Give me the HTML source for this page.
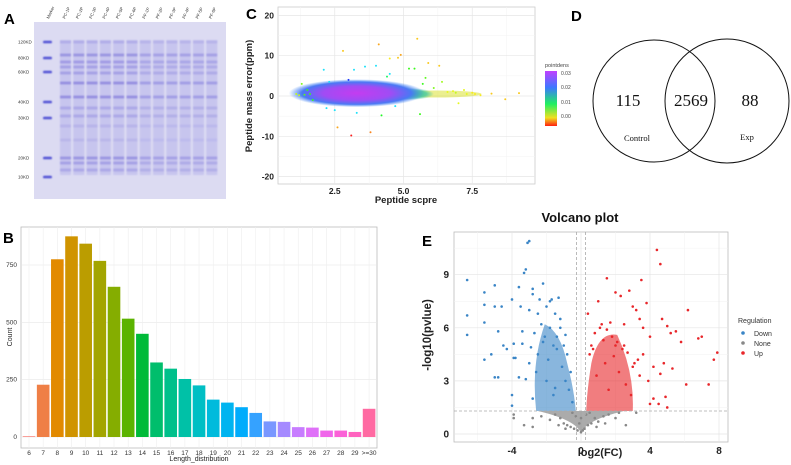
<!DOCTYPE html>
<html><head><meta charset="utf-8">
<style>
html,body{margin:0;padding:0;background:#fff;}
svg{display:block;font-family:"Liberation Sans",Arial,sans-serif;}
</style></head>
<body>
<svg id="fig" width="791" height="465" viewBox="0 0 791 465" xmlns="http://www.w3.org/2000/svg">
<defs>
<radialGradient id="cloudG" cx="50%" cy="50%" r="50%">
<stop offset="0" stop-color="#c43cf0"/><stop offset="0.5" stop-color="#a04cf4"/><stop offset="0.8" stop-color="#4a78f4"/><stop offset="1" stop-color="#3a84f2" stop-opacity="0"/>
</radialGradient>
<radialGradient id="tailG" cx="50%" cy="50%" r="50%">
<stop offset="0" stop-color="#30d080"/><stop offset="0.7" stop-color="#40c8a0" stop-opacity="0.8"/><stop offset="1" stop-color="#40c8a0" stop-opacity="0"/>
</radialGradient>
<linearGradient id="cbar" x1="0" y1="0" x2="0" y2="1">
<stop offset="0" stop-color="#c040ff"/><stop offset="0.3" stop-color="#3c78ff"/><stop offset="0.6" stop-color="#20f060"/><stop offset="0.85" stop-color="#f0e020"/><stop offset="1" stop-color="#ff2010"/>
</linearGradient>
<filter id="blur1"><feGaussianBlur stdDeviation="0.7"/></filter>
</defs>

<g id="panelA">
<text x="4" y="24" font-size="15" font-weight="bold">A</text>
<rect x="34" y="22" width="192" height="177" fill="#dcdbf2"/>
<g id="gelLanes" filter="url(#blur1)"></g>
<g id="gelLabels" font-size="4.5" fill="#333"></g>
</g>

<g id="panelB">
<text x="3" y="243" font-size="15" font-weight="bold">B</text>
<rect x="21" y="227" width="356" height="221" fill="#fff" stroke="#bbb" stroke-width="0.8"/>
<g id="bGrid"></g><g id="bBars"></g><g id="bAxes" font-size="6.5" fill="#333"></g>
<text x="199" y="461" font-size="7" text-anchor="middle" fill="#222">Length_distribution</text>
<text transform="translate(12,337) rotate(-90)" font-size="7" text-anchor="middle" fill="#222">Count</text>
</g>

<g id="panelC">
<text x="246" y="19" font-size="15" font-weight="bold">C</text>
<rect x="278" y="7" width="257" height="177" fill="#fff" stroke="#ccc" stroke-width="0.8"/>
<g id="cGrid"></g>
<g id="cCloud"></g>
<g id="cPts"></g>
<g id="cAxes" font-size="8.5" font-weight="bold" fill="#222"></g>
<text x="406" y="203" font-size="9.5" font-weight="bold" text-anchor="middle" fill="#222">Peptide scpre</text>
<text transform="translate(252,96) rotate(-90)" font-size="9.5" font-weight="bold" text-anchor="middle" fill="#222">Peptide mass error(ppm)</text>
<text x="545" y="67" font-size="5.5" fill="#444">pointdens</text>
<rect x="545" y="71" width="12" height="55" fill="url(#cbar)"/>
<g font-size="5" fill="#444">
<text x="561" y="75">0.03</text><text x="561" y="89">0.02</text><text x="561" y="104">0.01</text><text x="561" y="118">0.00</text>
</g>
</g>

<g id="panelD">
<text x="571" y="21" font-size="15" font-weight="bold">D</text>
<circle cx="654" cy="101" r="61" fill="none" stroke="#111" stroke-width="1"/>
<circle cx="727" cy="101" r="62" fill="none" stroke="#111" stroke-width="1"/>
<g font-family="Liberation Serif,serif" text-anchor="middle" fill="#111">
<text x="628" y="106" font-size="17">115</text>
<text x="691" y="106" font-size="17">2569</text>
<text x="750" y="106" font-size="17">88</text>
<text x="637" y="141" font-size="8.5">Control</text>
<text x="747" y="140" font-size="8.5">Exp</text>
</g>
</g>

<g id="panelE">
<text x="580" y="222" font-size="13" font-weight="bold" text-anchor="middle" fill="#111">Volcano plot</text>
<text x="422" y="246" font-size="15" font-weight="bold">E</text>
<rect x="454" y="232" width="274" height="210" fill="#fff" stroke="#bbb" stroke-width="0.8"/>
<g id="eGrid"></g>
<g id="eDense"></g>
<g id="ePts"></g>
<g id="eLines"></g>
<g id="eAxes" font-size="10" font-weight="bold" fill="#222"></g>
<text x="600" y="456" font-size="11" font-weight="bold" text-anchor="middle" fill="#222">log2(FC)</text>
<text transform="translate(431,335) rotate(-90)" font-size="11.5" font-weight="bold" text-anchor="middle" fill="#222">-log10(pvlue)</text>
<g font-size="7" fill="#333">
<text x="738" y="323">Regulation</text>
<circle cx="743" cy="333" r="1.8" fill="#3a85c6"/><text x="754" y="336">Down</text>
<circle cx="743" cy="343" r="1.8" fill="#888"/><text x="754" y="346">None</text>
<circle cx="743" cy="353" r="1.8" fill="#e8262a"/><text x="754" y="356">Up</text>
</g>
</g>

<script>
var lenCategories = ["6","7","8","9","10","11","12","13","14","15","16","17","18","19","20","21","22","23","24","25","26","27","28","29",">=30"];
var lenCounts = [3,228,775,875,843,768,655,516,450,325,298,253,225,163,150,130,105,68,66,43,41,28,28,22,123];
var lenTicks = [0,250,500,750];
var lenColors = ["#f8766d","#ef7f46","#e28a00","#d09400","#bb9d00","#a3a500","#85ad00","#5bb300","#00ba38","#00be6c","#00c08b","#00c1a7","#00bfc4","#00bbdc","#00b4f0","#00acfc","#35a2ff","#7997ff","#a58aff","#c77cff","#df70f8","#f066ea","#fb61d7","#ff63bf","#ff6aa2"];

var cTicksX = [2.5,5.0,7.5];
var cTicksY = [-20,-10,0,10,20];
var cScore = [1.3,1.5,1.6,1.2,1.1,1.7,2.1,2.8,3.1,3.8,4.1,4.2,4.5,4.8,4.9,5.5,5.6,5.9,6.3,6.4,5.7,4.5,3.6,3.2,2.6,2.3,2.5,3.0,4.0,4.4,5.2,6.6,6.8,7.0,7.2,7.3,7.5,7.6,7.8,8.2,8.7,9.2,6.1,5.8,5.4,6.9,3.3,2.2,4.7,1.4];
var cError = [3.0,1.5,0.5,0.2,0.5,-1.0,6.5,11.2,-9.8,-9.0,12.8,-4.8,9.3,9.5,10.2,14.2,-4.5,8.2,7.5,3.5,3.0,5.5,7.3,6.5,-7.8,3.5,-3.5,4.0,7.5,4.8,6.8,1.0,1.2,-1.8,1.5,0.5,0.8,0.5,0.2,0.6,-0.8,0.7,2.0,4.5,6.8,0.8,-4.2,-3.0,-2.5,0.3];
var cDens = [0.01,0.012,0.012,0.008,0.008,0.012,0.02,0.005,0.0,0.003,0.004,0.013,0.006,0.005,0.004,0.005,0.012,0.005,0.005,0.009,0.012,0.02,0.02,0.02,0.004,0.02,0.02,0.025,0.02,0.015,0.012,0.007,0.007,0.007,0.007,0.007,0.006,0.006,0.006,0.005,0.005,0.005,0.01,0.011,0.012,0.008,0.02,0.02,0.02,0.011];

var eTicksX = [-4,0,4,8];
var eTicksY = [0,3,6,9];
var downX = [-6.6,-6.6,-6.6,-5.6,-5.6,-5.6,-5.6,-5.0,-5.0,-4.6,-4.5,-4.0,-4.0,-4.0,-3.9,-3.9,-3.6,-3.5,-3.3,-3.2,-3.1,-3.0,-3.0,-2.8,-2.8,-2.7,-2.5,-2.4,-2.2,-2.0,-1.8,-1.7,-1.5,-1.4,-1.3,-1.2,-1.0,-0.8,-0.6,-3.0,-2.6,-2.0,-1.6,-4.8,-5.2,-3.8,-3.4,-2.2,-1.9,-1.1,-0.9,-0.7,-0.5,-1.5,-2.8,-3.6,-4.3,-4.8,-5.0,-3.2,-2.3,-2.1,-1.8,-1.6,-1.4,-2.5,-2.9,-3.4,-1.2,-0.9];
var downY = [8.7,6.7,5.6,8.0,7.3,6.3,4.2,8.4,7.2,7.2,5.0,7.6,2.2,1.6,5.1,4.3,8.3,7.2,9.1,9.3,10.8,10.9,7.0,8.2,7.9,5.7,6.8,7.6,8.5,7.2,7.5,7.6,6.8,5.5,7.7,6.5,5.0,4.5,3.5,4.0,3.5,3.0,2.2,3.2,4.5,4.3,5.8,5.2,4.2,3.8,3.0,2.5,1.8,2.6,2.0,3.2,4.8,5.8,3.2,3.1,6.2,5.5,6.0,5.0,4.8,4.5,4.9,5.1,6.0,5.6];
var upX = [0.4,0.6,1.0,1.5,1.7,2.0,2.3,2.5,2.8,3.0,3.2,3.4,3.5,3.6,3.8,4.0,4.2,4.4,4.6,4.7,4.8,5.0,5.2,5.5,5.8,6.1,6.2,6.8,7.0,7.4,7.7,7.9,4.6,4.0,3.0,2.4,1.8,1.2,1.4,2.2,2.6,3.3,3.9,4.5,5.0,5.3,0.9,0.5,2.0,3.6,4.2,4.9,1.6,2.9,3.4,1.1,1.3,0.8,2.1,2.7,1.9,1.5,0.7,2.5,3.1];
var upY = [6.8,5.0,7.5,8.8,6.3,8.0,7.8,6.2,8.1,7.2,7.0,6.5,8.7,6.0,7.4,5.5,3.8,10.4,9.6,6.5,4.0,6.1,5.7,5.8,5.2,2.8,7.0,5.4,5.5,2.8,4.2,4.6,3.4,1.7,3.8,4.8,5.5,6.2,4.0,3.5,2.8,4.2,3.0,1.7,1.5,3.7,3.3,4.5,5.0,4.5,2.0,2.1,2.5,2.2,3.3,6.0,5.3,5.7,5.2,4.6,4.4,5.9,4.8,5.0,4.0];
var noneX = [-3.9,-3.9,-3.3,-2.8,-2.8,-2.3,-1.8,-1.5,-1.2,-1.0,-0.8,-0.6,-0.4,-0.2,0.0,0.1,0.2,0.4,0.6,0.8,1.0,1.3,1.6,2.0,2.2,2.6,3.2,-0.3,0.3,-0.1,0.0,-0.5,0.5,0.9,-0.9,1.4,-1.3];
var noneY = [1.1,0.9,0.5,0.4,0.9,1.0,0.8,1.1,0.9,0.6,0.5,0.4,0.3,0.2,0.1,0.2,0.3,0.5,0.6,0.9,0.7,1.0,1.1,0.9,1.2,0.5,1.2,1.0,1.1,0.6,0.9,1.2,1.2,0.4,0.3,0.6,0.5];

var NS = "http://www.w3.org/2000/svg";
function mk(tag, attrs, parent){var e=document.createElementNS(NS,tag);for(var k in attrs)e.setAttribute(k,attrs[k]);parent.appendChild(e);return e;}

(function(){
  var lanes=document.getElementById('gelLanes');
  var mk_kd=[["120KD",42],["80KD",58],["60KD",72],["40KD",102],["30KD",118],["20KD",158],["10KD",177]];
  mk_kd.forEach(function(m){
    var b=mk('rect',{x:43,y:m[1]-1.3,width:9,height:2.6,rx:1.3,fill:'#3a3ad0',opacity:0.85},lanes);
    
    
    var t=mk('text',{x:18,y:m[1]+1.5,'font-size':4.5,fill:'#333'},document.getElementById('gelLabels'));
    t.textContent=m[0];
    
    
  });
  var bandY=[[42,0.2],[55,0.4],[62,0.35],[67,0.3],[73,0.3],[83,0.45],[97,0.45],[108,0.25],[116,0.25],[126,0.15],[140,0.12],[158,0.4],[163,0.3],[170,0.25]];
  var names=["PC-1P","PC-2P","PC-3P","PC-4P","PC-5P","PC-6P","PF-1P","PF-2P","PF-3P","PF-4P","PF-5P","PF-6P"];
  for(var i=0;i<12;i++){
    var x=60+i*13.3;
    var l=mk('rect',{x:x,y:40,width:11,height:135,fill:'#bfbcec',opacity:0.7},lanes);
    
    
    bandY.forEach(function(b){mk('rect',{x:x,y:b[0]-1.5,width:11,height:3,fill:'#5a50d0',opacity:b[1]*(i<6?1:0.75)},lanes);});
    var t=mk('text',{transform:'translate('+(x+5)+',19) rotate(-65)','font-size':4.2,fill:'#333'},document.getElementById('gelLabels'));
    t.textContent=names[i];
    
    
  }
  var t=mk('text',{transform:'translate(49,19) rotate(-65)','font-size':4.2,fill:'#333'},document.getElementById('gelLabels'));
  t.textContent='Marker';
  
  
})();

(function(){
  var x0=29,step=14.17,y0=437,ky=172/750;
  function bx(i){return x0+i*step;}
  function by(v){return y0-v*ky;}
  var g=document.getElementById('bGrid'),bb=document.getElementById('bBars'),ax=document.getElementById('bAxes');
  lenTicks.forEach(function(t){
    mk('line',{x1:21,x2:377,y1:by(t),y2:by(t),stroke:'#e6e6e6','stroke-width':0.6},g);
    var tx=mk('text',{x:17,y:by(t)+2,'text-anchor':'end'},ax);tx.textContent=t;
    
    
  });
  lenCategories.forEach(function(c,i){
    mk('line',{x1:bx(i),x2:bx(i),y1:227,y2:448,stroke:'#eeeeee','stroke-width':0.6},g);
    var r=mk('rect',{x:bx(i)-6.3,y:by(lenCounts[i]),width:12.6,height:lenCounts[i]*ky,fill:lenColors[i]},bb);
    
    
    var tx=mk('text',{x:bx(i),y:455,'text-anchor':'middle'},ax);tx.textContent=c;
    
    
  });
})();

(function(){
  function cx(v){return 266+v*27.5;}
  function cy(v){return 96-v*4.03;}
  var g=document.getElementById('cGrid'),ax=document.getElementById('cAxes'),cl=document.getElementById('cCloud'),p=document.getElementById('cPts');
  [1.25,3.75,6.25,8.75].forEach(function(v){mk('line',{x1:cx(v),x2:cx(v),y1:7,y2:184,stroke:'#f3f3f3','stroke-width':0.5},g);});
  [-15,-5,5,15].forEach(function(v){mk('line',{x1:278,x2:535,y1:cy(v),y2:cy(v),stroke:'#f3f3f3','stroke-width':0.5},g);});
  cTicksX.forEach(function(t){
    mk('line',{x1:cx(t),x2:cx(t),y1:7,y2:184,stroke:'#e6e6e6','stroke-width':0.7},g);
    var tx=mk('text',{x:cx(t),y:194,'text-anchor':'middle'},ax);tx.textContent=t.toFixed(1);
    
    
  });
  cTicksY.forEach(function(t){
    mk('line',{x1:278,x2:535,y1:cy(t),y2:cy(t),stroke:'#e6e6e6','stroke-width':0.7},g);
    var tx=mk('text',{x:274,y:cy(t)+3,'text-anchor':'end'},ax);tx.textContent=t;
    
    
  });
  mk('ellipse',{cx:cx(6.2),cy:cy(0.5),rx:45,ry:3.5,fill:'#d8e020',opacity:0.5},cl);
  mk('ellipse',{cx:cx(5.2),cy:cy(0.5),rx:25,ry:6,fill:'url(#tailG)'},cl);
  mk('ellipse',{cx:cx(1.6),cy:cy(0.5),rx:12,ry:5,fill:'url(#tailG)'},cl);
  var d=mk('ellipse',{cx:cx(3.3),cy:cy(0.7),rx:68,ry:14,fill:'url(#cloudG)'},cl);
  
  
  function dcol(v){var h=Math.max(0,Math.min(1,v/0.03));return 'hsl('+(h*280)+',95%,55%)';}
  cScore.forEach(function(s,i){
    var c=mk('circle',{cx:cx(s),cy:cy(cError[i]),r:1,fill:dcol(cDens[i])},p);
    
    
  });
})();

(function(){
  function ex(v){return 581+v*17.25;}
  function ey(v){return 434-v*17.7;}
  var g=document.getElementById('eGrid'),ax=document.getElementById('eAxes'),p=document.getElementById('ePts'),dn=document.getElementById('eDense'),ln=document.getElementById('eLines');
  [-6,-2,2,6].forEach(function(v){mk('line',{x1:ex(v),x2:ex(v),y1:232,y2:442,stroke:'#f2f2f2','stroke-width':0.5},g);});
  [1.5,4.5,7.5,10.5].forEach(function(v){mk('line',{x1:454,x2:728,y1:ey(v),y2:ey(v),stroke:'#f2f2f2','stroke-width':0.5},g);});
  eTicksX.forEach(function(t){
    mk('line',{x1:ex(t),x2:ex(t),y1:232,y2:442,stroke:'#e4e4e4','stroke-width':0.7},g);
    var tx=mk('text',{x:ex(t),y:454,'text-anchor':'middle'},ax);tx.textContent=t;
    
    
  });
  eTicksY.forEach(function(t){
    mk('line',{x1:454,x2:728,y1:ey(t),y2:ey(t),stroke:'#e4e4e4','stroke-width':0.7},g);
    var tx=mk('text',{x:449,y:ey(t)+3.5,'text-anchor':'end'},ax);tx.textContent=t;
    
    
  });
  var dd=mk('path',{d:'M'+ex(-0.3)+','+ey(1.3)+' L'+ex(-2.6)+','+ey(1.3)+' Q'+ex(-2.9)+','+ey(4)+' '+ex(-2.1)+','+ey(6.2)+' Q'+ex(-1.2)+','+ey(5.8)+' '+ex(-0.8)+','+ey(4)+' Q'+ex(-0.4)+','+ey(2.5)+' '+ex(-0.3)+','+ey(1.3)+'Z',fill:'#3a85c6',opacity:0.6},dn);
  
  
  var du=mk('path',{d:'M'+ex(0.3)+','+ey(1.3)+' L'+ex(3.0)+','+ey(1.3)+' Q'+ex(3.1)+','+ey(3.5)+' '+ex(2.1)+','+ey(5.6)+' Q'+ex(1.0)+','+ey(5.8)+' '+ex(0.6)+','+ey(4)+' Q'+ex(0.35)+','+ey(2.5)+' '+ex(0.3)+','+ey(1.3)+'Z',fill:'#e8262a',opacity:0.6},dn);
  
  
  var dnn=mk('path',{d:'M'+ex(-2.5)+','+ey(1.3)+' Q'+ex(-0.3)+','+ey(0.8)+' '+ex(0)+','+ey(0.05)+' Q'+ex(0.3)+','+ey(0.8)+' '+ex(2.5)+','+ey(1.3)+'Z',fill:'#888',opacity:0.7},dn);
  
  
  function pts(xs,ys,col,name){xs.forEach(function(v,i){var c=mk('circle',{cx:ex(v),cy:ey(ys[i]),r:1.3,fill:col},p);});}
  pts(downX,downY,'#3a85c6','down-point');
  pts(upX,upY,'#e8262a','up-point');
  pts(noneX,noneY,'#888','none-point');
  [-0.26,0.26].forEach(function(v){mk('line',{x1:ex(v),x2:ex(v),y1:232,y2:442,stroke:'#aaa','stroke-width':0.8,'stroke-dasharray':'3,2'},ln);});
  mk('line',{x1:454,x2:728,y1:ey(1.3),y2:ey(1.3),stroke:'#aaa','stroke-width':0.8,'stroke-dasharray':'3,2'},ln);
})();
</script>
</svg>
</body></html>
